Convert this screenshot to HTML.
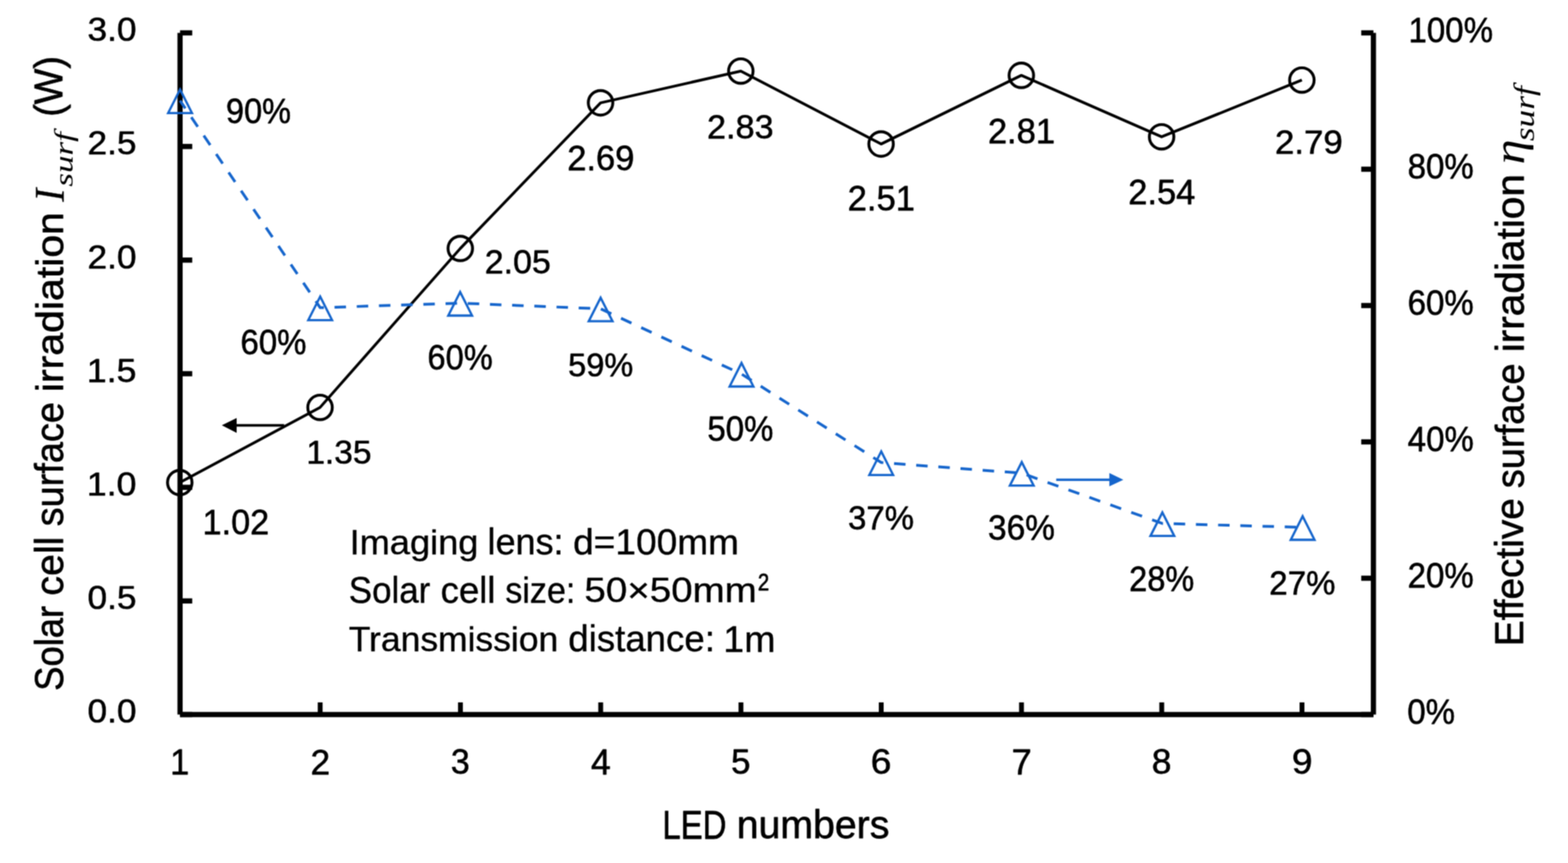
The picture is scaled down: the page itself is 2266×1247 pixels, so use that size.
<!DOCTYPE html>
<html><head><meta charset="utf-8"><title>LED numbers chart</title>
<style>html,body{margin:0;padding:0;background:#fff;}svg{display:block;}</style></head>
<body><svg width="2266" height="1247" viewBox="0 0 2266 1247">
<defs><filter id="soft" x="0" y="0" width="2266" height="1247" filterUnits="userSpaceOnUse" color-interpolation-filters="sRGB"><feConvolveMatrix order="3" kernelMatrix="1 2 1 2 4 2 1 2 1" edgeMode="duplicate"/></filter></defs>
<rect width="2266" height="1247" fill="#fff"/>
<g filter="url(#soft)">
<g stroke="#000" stroke-width="7.5" fill="none" stroke-linecap="butt">
<line x1="260.2" y1="47.5" x2="260.2" y2="1032.5"/>
<line x1="1984.8" y1="47.5" x2="1984.8" y2="1032.5"/>
<line x1="260.2" y1="1032.5" x2="1984.8" y2="1032.5"/>
<line x1="260.2" y1="47.50" x2="277.80" y2="47.50"/>
<line x1="260.2" y1="211.67" x2="277.80" y2="211.67"/>
<line x1="260.2" y1="375.83" x2="277.80" y2="375.83"/>
<line x1="260.2" y1="540.00" x2="277.80" y2="540.00"/>
<line x1="260.2" y1="704.17" x2="277.80" y2="704.17"/>
<line x1="260.2" y1="868.33" x2="277.80" y2="868.33"/>
<line x1="260.2" y1="1032.50" x2="277.80" y2="1032.50"/>
<line x1="1967.20" y1="47.50" x2="1984.8" y2="47.50"/>
<line x1="1967.20" y1="244.50" x2="1984.8" y2="244.50"/>
<line x1="1967.20" y1="441.50" x2="1984.8" y2="441.50"/>
<line x1="1967.20" y1="638.50" x2="1984.8" y2="638.50"/>
<line x1="1967.20" y1="835.50" x2="1984.8" y2="835.50"/>
<line x1="1967.20" y1="1032.50" x2="1984.8" y2="1032.50"/>
</g>
<g stroke="#000" stroke-width="7" fill="none">
<line x1="462.70" y1="1014.90" x2="462.70" y2="1032.5"/>
<line x1="665.40" y1="1014.90" x2="665.40" y2="1032.5"/>
<line x1="868.10" y1="1014.90" x2="868.10" y2="1032.5"/>
<line x1="1070.80" y1="1014.90" x2="1070.80" y2="1032.5"/>
<line x1="1273.50" y1="1014.90" x2="1273.50" y2="1032.5"/>
<line x1="1476.20" y1="1014.90" x2="1476.20" y2="1032.5"/>
<line x1="1678.90" y1="1014.90" x2="1678.90" y2="1032.5"/>
<line x1="1881.60" y1="1014.90" x2="1881.60" y2="1032.5"/>
</g>
<polyline points="259.8,697.3 462.5,588.7 665.2,359.0 867.9,148.6 1070.6,102.7 1273.3,208.1 1476.0,108.9 1678.7,197.7 1881.4,115.7" fill="none" stroke="#000" stroke-width="4.0" stroke-linejoin="round"/>
<circle cx="259.8" cy="697.3" r="17.7" fill="none" stroke="#000" stroke-width="4.2"/>
<circle cx="462.5" cy="588.7" r="17.7" fill="none" stroke="#000" stroke-width="4.2"/>
<circle cx="665.2" cy="359.0" r="17.7" fill="none" stroke="#000" stroke-width="4.2"/>
<circle cx="867.9" cy="148.6" r="17.7" fill="none" stroke="#000" stroke-width="4.2"/>
<circle cx="1070.6" cy="102.7" r="17.7" fill="none" stroke="#000" stroke-width="4.2"/>
<circle cx="1273.3" cy="208.1" r="17.7" fill="none" stroke="#000" stroke-width="4.2"/>
<circle cx="1476.0" cy="108.9" r="17.7" fill="none" stroke="#000" stroke-width="4.2"/>
<circle cx="1678.7" cy="197.7" r="17.7" fill="none" stroke="#000" stroke-width="4.2"/>
<circle cx="1881.4" cy="115.7" r="17.7" fill="none" stroke="#000" stroke-width="4.2"/>
<polyline points="260.2,145.3 462.7,444.6 665.0,438.0 868.0,446.2 1071.6,540.5 1273.5,668.3 1476.6,683.7 1679.8,756.4 1882.5,762.0" fill="none" stroke="#1565cc" stroke-width="4" stroke-dasharray="16.6 15.5" stroke-dashoffset="3.05" stroke-linejoin="round"/>
<path d="M260.2,129.3 L277.4,163.3 L243.0,163.3 Z" fill="none" stroke="#1565cc" stroke-width="3.3" stroke-linejoin="miter"/>
<path d="M462.7,428.6 L479.9,462.6 L445.5,462.6 Z" fill="none" stroke="#1565cc" stroke-width="3.3" stroke-linejoin="miter"/>
<path d="M665.0,422.0 L682.2,456.0 L647.8,456.0 Z" fill="none" stroke="#1565cc" stroke-width="3.3" stroke-linejoin="miter"/>
<path d="M868.0,430.2 L885.2,464.2 L850.8,464.2 Z" fill="none" stroke="#1565cc" stroke-width="3.3" stroke-linejoin="miter"/>
<path d="M1071.6,524.5 L1088.8,558.5 L1054.4,558.5 Z" fill="none" stroke="#1565cc" stroke-width="3.3" stroke-linejoin="miter"/>
<path d="M1273.5,652.3 L1290.7,686.3 L1256.3,686.3 Z" fill="none" stroke="#1565cc" stroke-width="3.3" stroke-linejoin="miter"/>
<path d="M1476.6,667.7 L1493.8,701.7 L1459.4,701.7 Z" fill="none" stroke="#1565cc" stroke-width="3.3" stroke-linejoin="miter"/>
<path d="M1679.8,740.4 L1697.0,774.4 L1662.6,774.4 Z" fill="none" stroke="#1565cc" stroke-width="3.3" stroke-linejoin="miter"/>
<path d="M1882.5,746.0 L1899.7,780.0 L1865.3,780.0 Z" fill="none" stroke="#1565cc" stroke-width="3.3" stroke-linejoin="miter"/>
<line x1="410.6" y1="614.6" x2="340" y2="614.6" stroke="#000" stroke-width="3.6"/>
<path d="M320.6,614.6 L342,603.9 L342,625.4 Z" fill="#000"/>
<line x1="1526.4" y1="693.2" x2="1605" y2="693.2" stroke="#1565cc" stroke-width="3.6"/>
<path d="M1623.4,693.2 L1603.2,683.6 L1603.2,702.8 Z" fill="#1565cc"/>
<g stroke="#000" stroke-width="0.8" stroke-linejoin="round"><text transform="matrix(0.9955 0.0000 0.0000 0.9289 126.6090 59.1711)" font-family="'Liberation Sans', Arial, sans-serif" font-style="normal" font-size="51" stroke-width="0.8" fill="#000">3.0</text>
<text transform="matrix(0.9955 0.0000 0.0000 0.9289 126.6090 223.3377)" font-family="'Liberation Sans', Arial, sans-serif" font-style="normal" font-size="51" stroke-width="0.8" fill="#000">2.5</text>
<text transform="matrix(0.9955 0.0000 0.0000 0.9289 126.6090 387.5044)" font-family="'Liberation Sans', Arial, sans-serif" font-style="normal" font-size="51" stroke-width="0.8" fill="#000">2.0</text>
<text transform="matrix(1.0106 0.0000 0.0000 0.9541 125.5682 551.6459)" font-family="'Liberation Sans', Arial, sans-serif" font-style="normal" font-size="51" stroke-width="0.8" fill="#000">1.5</text>
<text transform="matrix(1.0106 0.0000 0.0000 0.9289 125.5682 715.8377)" font-family="'Liberation Sans', Arial, sans-serif" font-style="normal" font-size="51" stroke-width="0.8" fill="#000">1.0</text>
<text transform="matrix(0.9955 0.0000 0.0000 0.9289 126.6090 880.0044)" font-family="'Liberation Sans', Arial, sans-serif" font-style="normal" font-size="51" stroke-width="0.8" fill="#000">0.5</text>
<text transform="matrix(0.9955 0.0000 0.0000 0.9289 126.6090 1044.1711)" font-family="'Liberation Sans', Arial, sans-serif" font-style="normal" font-size="51" stroke-width="0.8" fill="#000">0.0</text>
<text transform="matrix(0.9365 0.0000 0.0000 0.9921 2035.4905 60.5079)" font-family="'Liberation Sans', Arial, sans-serif" font-style="normal" font-size="51" stroke-width="0.8" fill="#000">100%</text>
<text transform="matrix(0.9374 0.0000 0.0000 0.9921 2034.1253 257.5079)" font-family="'Liberation Sans', Arial, sans-serif" font-style="normal" font-size="51" stroke-width="0.8" fill="#000">80%</text>
<text transform="matrix(0.9374 0.0000 0.0000 0.9921 2034.1253 454.5079)" font-family="'Liberation Sans', Arial, sans-serif" font-style="normal" font-size="51" stroke-width="0.8" fill="#000">60%</text>
<text transform="matrix(0.9350 0.0000 0.0000 0.9921 2034.3650 651.5079)" font-family="'Liberation Sans', Arial, sans-serif" font-style="normal" font-size="51" stroke-width="0.8" fill="#000">40%</text>
<text transform="matrix(0.9374 0.0000 0.0000 0.9921 2034.1253 848.5079)" font-family="'Liberation Sans', Arial, sans-serif" font-style="normal" font-size="51" stroke-width="0.8" fill="#000">20%</text>
<text transform="matrix(0.9357 0.0000 0.0000 0.9921 2033.6286 1045.5079)" font-family="'Liberation Sans', Arial, sans-serif" font-style="normal" font-size="51" stroke-width="0.8" fill="#000">0%</text>
<text transform="matrix(0.9696 0.0000 0.0000 1.0167 245.9413 1118.6000)" font-family="'Liberation Sans', Arial, sans-serif" font-style="normal" font-size="51" stroke-width="0.8" fill="#000">1</text>
<text transform="matrix(1.0000 0.0000 0.0000 0.9892 448.7000 1118.6000)" font-family="'Liberation Sans', Arial, sans-serif" font-style="normal" font-size="51" stroke-width="0.8" fill="#000">2</text>
<text transform="matrix(0.9640 0.0000 0.0000 0.9632 651.4220 1117.6368)" font-family="'Liberation Sans', Arial, sans-serif" font-style="normal" font-size="51" stroke-width="0.8" fill="#000">3</text>
<text transform="matrix(1.0077 0.0000 0.0000 1.0167 853.9923 1118.6000)" font-family="'Liberation Sans', Arial, sans-serif" font-style="normal" font-size="51" stroke-width="0.8" fill="#000">4</text>
<text transform="matrix(0.9880 0.0000 0.0000 0.9892 1056.4740 1117.6108)" font-family="'Liberation Sans', Arial, sans-serif" font-style="normal" font-size="51" stroke-width="0.8" fill="#000">5</text>
<text transform="matrix(1.0560 0.0000 0.0000 0.9632 1258.1880 1117.6368)" font-family="'Liberation Sans', Arial, sans-serif" font-style="normal" font-size="51" stroke-width="0.8" fill="#000">6</text>
<text transform="matrix(1.0208 0.0000 0.0000 1.0167 1461.9083 1118.6000)" font-family="'Liberation Sans', Arial, sans-serif" font-style="normal" font-size="51" stroke-width="0.8" fill="#000">7</text>
<text transform="matrix(1.0000 0.0000 0.0000 0.9632 1664.4000 1117.6368)" font-family="'Liberation Sans', Arial, sans-serif" font-style="normal" font-size="51" stroke-width="0.8" fill="#000">8</text>
<text transform="matrix(1.0500 0.0000 0.0000 0.9632 1866.9000 1117.6368)" font-family="'Liberation Sans', Arial, sans-serif" font-style="normal" font-size="51" stroke-width="0.8" fill="#000">9</text>
<text transform="matrix(0.9691 0.0000 0.0000 0.9632 292.7926 771.8368)" font-family="'Liberation Sans', Arial, sans-serif" font-style="normal" font-size="51" stroke-width="0.8" fill="#000">1.02</text>
<text transform="matrix(0.9495 0.0000 0.0000 0.9368 442.6516 670.3632)" font-family="'Liberation Sans', Arial, sans-serif" font-style="normal" font-size="51" stroke-width="0.8" fill="#000">1.35</text>
<text transform="matrix(0.9625 0.0000 0.0000 0.9605 700.4750 395.0395)" font-family="'Liberation Sans', Arial, sans-serif" font-style="normal" font-size="51" stroke-width="0.8" fill="#000">2.05</text>
<text transform="matrix(0.9800 0.0000 0.0000 0.9684 819.6400 245.8316)" font-family="'Liberation Sans', Arial, sans-serif" font-style="normal" font-size="51" stroke-width="0.8" fill="#000">2.69</text>
<text transform="matrix(0.9688 0.0000 0.0000 0.9500 1021.7625 200.1500)" font-family="'Liberation Sans', Arial, sans-serif" font-style="normal" font-size="51" stroke-width="0.8" fill="#000">2.83</text>
<text transform="matrix(0.9789 0.0000 0.0000 0.9632 1225.0421 304.4368)" font-family="'Liberation Sans', Arial, sans-serif" font-style="normal" font-size="51" stroke-width="0.8" fill="#000">2.51</text>
<text transform="matrix(0.9779 0.0000 0.0000 0.9632 1427.6442 206.7368)" font-family="'Liberation Sans', Arial, sans-serif" font-style="normal" font-size="51" stroke-width="0.8" fill="#000">2.81</text>
<text transform="matrix(0.9771 0.0000 0.0000 0.9632 1630.4458 294.6368)" font-family="'Liberation Sans', Arial, sans-serif" font-style="normal" font-size="51" stroke-width="0.8" fill="#000">2.54</text>
<text transform="matrix(0.9874 0.0000 0.0000 0.9500 1842.5253 221.5500)" font-family="'Liberation Sans', Arial, sans-serif" font-style="normal" font-size="51" stroke-width="0.8" fill="#000">2.79</text>
<text transform="matrix(0.9212 0.0000 0.0000 0.9789 326.5576 177.9211)" font-family="'Liberation Sans', Arial, sans-serif" font-style="normal" font-size="51" stroke-width="0.8" fill="#000">90%</text>
<text transform="matrix(0.9354 0.0000 0.0000 0.9789 347.4293 512.0211)" font-family="'Liberation Sans', Arial, sans-serif" font-style="normal" font-size="51" stroke-width="0.8" fill="#000">60%</text>
<text transform="matrix(0.9232 0.0000 0.0000 0.9632 617.8535 533.6368)" font-family="'Liberation Sans', Arial, sans-serif" font-style="normal" font-size="51" stroke-width="0.8" fill="#000">60%</text>
<text transform="matrix(0.9232 0.0000 0.0000 0.9368 820.9535 544.2632)" font-family="'Liberation Sans', Arial, sans-serif" font-style="normal" font-size="51" stroke-width="0.8" fill="#000">59%</text>
<text transform="matrix(0.9364 0.0000 0.0000 0.9842 1022.1273 637.4158)" font-family="'Liberation Sans', Arial, sans-serif" font-style="normal" font-size="51" stroke-width="0.8" fill="#000">50%</text>
<text transform="matrix(0.9354 0.0000 0.0000 0.9500 1225.5293 764.9500)" font-family="'Liberation Sans', Arial, sans-serif" font-style="normal" font-size="51" stroke-width="0.8" fill="#000">37%</text>
<text transform="matrix(0.9485 0.0000 0.0000 0.9763 1427.8030 779.9237)" font-family="'Liberation Sans', Arial, sans-serif" font-style="normal" font-size="51" stroke-width="0.8" fill="#000">36%</text>
<text transform="matrix(0.9232 0.0000 0.0000 0.9868 1631.7535 854.0132)" font-family="'Liberation Sans', Arial, sans-serif" font-style="normal" font-size="51" stroke-width="0.8" fill="#000">28%</text>
<text transform="matrix(0.9364 0.0000 0.0000 0.9447 1834.3273 859.0553)" font-family="'Liberation Sans', Arial, sans-serif" font-style="normal" font-size="51" stroke-width="0.8" fill="#000">27%</text>
<text transform="matrix(1.0073 0.0000 0.0000 0.9653 505.1708 800.8816)" font-family="'Liberation Sans', Arial, sans-serif" font-style="normal" font-size="52" stroke-width="0.5" fill="#000">Imaging</text>
<text transform="matrix(1.0010 0.0000 0.0000 1.0308 704.5971 800.5692)" font-family="'Liberation Sans', Arial, sans-serif" font-style="normal" font-size="52" stroke-width="0.5" fill="#000">lens:</text>
<text transform="matrix(1.0295 0.0000 0.0000 1.0128 828.3410 800.5872)" font-family="'Liberation Sans', Arial, sans-serif" font-style="normal" font-size="52" stroke-width="0.5" fill="#000">d=100mm</text>
<text transform="matrix(0.9706 0.0000 0.0000 1.0385 504.0588 871.2615)" font-family="'Liberation Sans', Arial, sans-serif" font-style="normal" font-size="52" stroke-width="0.5" fill="#000">Solar</text>
<text transform="matrix(1.0164 0.0000 0.0000 1.0385 636.7671 871.2615)" font-family="'Liberation Sans', Arial, sans-serif" font-style="normal" font-size="52" stroke-width="0.5" fill="#000">cell</text>
<text transform="matrix(0.9480 0.0000 0.0000 1.0000 730.1520 871.3000)" font-family="'Liberation Sans', Arial, sans-serif" font-style="normal" font-size="52" stroke-width="0.5" fill="#000">size:</text>
<text transform="matrix(1.0714 0.0000 0.0000 0.9763 844.4573 870.3237)" font-family="'Liberation Sans', Arial, sans-serif" font-style="normal" font-size="52" stroke-width="0.5" fill="#000">50×50mm</text>
<text transform="matrix(0.9858 0.0000 0.0000 0.9769 503.9142 940.6231)" font-family="'Liberation Sans', Arial, sans-serif" font-style="normal" font-size="52" stroke-width="0.5" fill="#000">Transmission</text>
<text transform="matrix(1.0173 0.0000 0.0000 1.0308 821.3653 940.5692)" font-family="'Liberation Sans', Arial, sans-serif" font-style="normal" font-size="52" stroke-width="0.5" fill="#000">distance:</text>
<text transform="matrix(1.0431 0.0000 0.0000 1.0389 1045.2277 941.6000)" font-family="'Liberation Sans', Arial, sans-serif" font-style="normal" font-size="52" stroke-width="0.5" fill="#000">1m</text>
<text transform="matrix(0.9800 0.0000 0.0000 1.1500 1095.2200 852.7000)" font-family="'Liberation Sans', Arial, sans-serif" font-style="normal" font-size="30" stroke-width="0.8" fill="#000">2</text>
<text transform="matrix(0.8818 0.0000 0.0000 1.0730 957.1727 1211.5000)" font-family="'Liberation Sans', Arial, sans-serif" font-style="normal" font-size="54" stroke-width="0.8" fill="#000">LED</text>
<text transform="matrix(1.0502 0.0000 0.0000 1.0725 1064.7493 1211.2275)" font-family="'Liberation Sans', Arial, sans-serif" font-style="normal" font-size="54" stroke-width="0.8" fill="#000">numbers</text>
<text transform="matrix(0.0000 -0.9734 1.0600 0.0000 90.7400 998.1468)" font-family="'Liberation Sans', Arial, sans-serif" font-style="normal" font-size="54" stroke-width="0.8" fill="#000">Solar</text>
<text transform="matrix(0.0000 -1.0539 1.0600 0.0000 90.7400 860.7079)" font-family="'Liberation Sans', Arial, sans-serif" font-style="normal" font-size="54" stroke-width="0.8" fill="#000">cell</text>
<text transform="matrix(0.0000 -1.0138 1.0625 0.0000 91.4375 760.5138)" font-family="'Liberation Sans', Arial, sans-serif" font-style="normal" font-size="54" stroke-width="0.8" fill="#000">surface</text>
<text transform="matrix(0.0000 -1.0974 1.0275 0.0000 90.5725 566.5922)" font-family="'Liberation Sans', Arial, sans-serif" font-style="normal" font-size="54" stroke-width="0.8" fill="#000">irradiation</text>
<text transform="matrix(0.0000 -1.0550 1.1222 0.0000 91.9000 291.5000)" font-family="'Liberation Serif', 'DejaVu Serif', serif" font-style="italic" font-size="54" stroke-width="0.3" fill="#000">I</text>
<text transform="matrix(0.0000 -1.3339 1.0171 0.0000 104.9629 269.8339)" font-family="'Liberation Serif', 'DejaVu Serif', serif" font-style="italic" font-size="38" stroke-width="0.0" fill="#000">surf</text>
<text transform="matrix(0.0000 -1.0099 1.0580 0.0000 90.0620 168.8296)" font-family="'Liberation Sans', Arial, sans-serif" font-style="normal" font-size="54" stroke-width="0.8" fill="#000">(W)</text>
<text transform="matrix(0.0000 -1.0375 1.0625 0.0000 2201.4375 933.7500)" font-family="'Liberation Sans', Arial, sans-serif" font-style="normal" font-size="54" stroke-width="0.8" fill="#000">Effective</text>
<text transform="matrix(0.0000 -1.0195 1.0575 0.0000 2202.4425 705.5195)" font-family="'Liberation Sans', Arial, sans-serif" font-style="normal" font-size="54" stroke-width="0.8" fill="#000">surface</text>
<text transform="matrix(0.0000 -1.0866 1.0500 0.0000 2201.7500 509.0597)" font-family="'Liberation Sans', Arial, sans-serif" font-style="normal" font-size="54" stroke-width="0.8" fill="#000">irradiation</text>
<text transform="matrix(0.0000 -1.3500 1.1703 0.0000 2201.7568 237.5000)" font-family="'Liberation Serif', 'DejaVu Serif', serif" font-style="italic" font-size="54" stroke-width="0.0" fill="#000">η</text>
<text transform="matrix(0.0000 -1.3452 1.1000 0.0000 2216.6000 204.0452)" font-family="'Liberation Serif', 'DejaVu Serif', serif" font-style="italic" font-size="38" stroke-width="0.0" fill="#000">surf</text></g>
</g>
</svg></body></html>
